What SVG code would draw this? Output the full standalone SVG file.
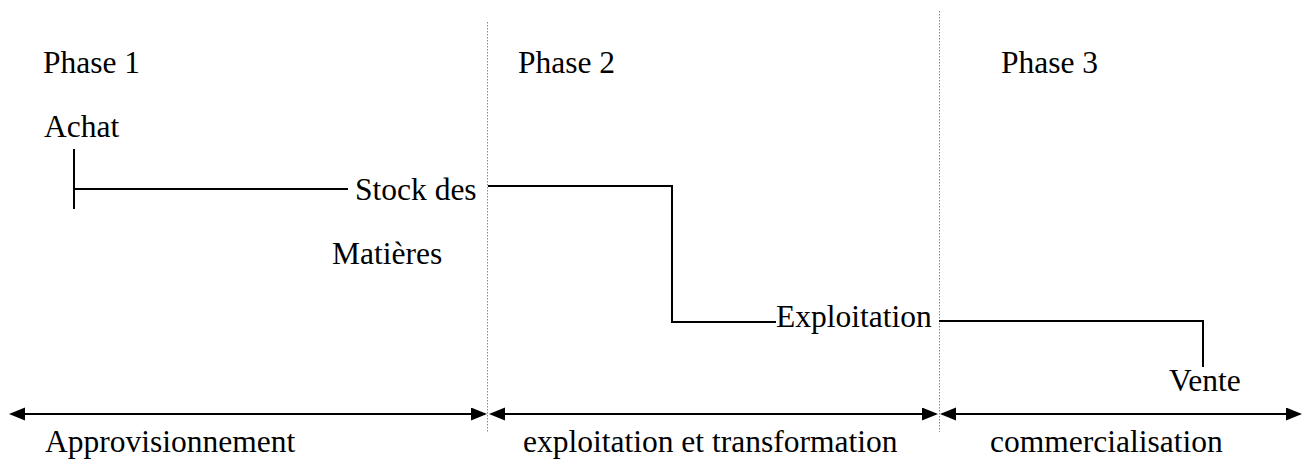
<svg xmlns="http://www.w3.org/2000/svg" width="1308" height="461" viewBox="0 0 1308 461">
<style>
text{font-family:"Liberation Serif","Times New Roman",serif;font-size:31.5px;fill:#000}
.ln{stroke:#000;stroke-width:2;fill:none}
.dot{stroke:#888;stroke-width:1;stroke-dasharray:1.5 1.5;fill:none}
.arr{stroke:#000;stroke-width:2.2;fill:none;marker-start:url(#ah);marker-end:url(#ah)}
</style>
<defs>
<marker id="ah" markerUnits="userSpaceOnUse" markerWidth="18" markerHeight="14" refX="14" refY="6.5" orient="auto-start-reverse" viewBox="0 0 18 14">
<path d="M0,0 L16,6.5 L0,13 z" fill="#000"/>
</marker>
</defs>
<rect width="1308" height="461" fill="#fff"/>
<g id="dividers">
<line class="dot" x1="487.5" y1="22" x2="487.5" y2="432"/>
<line class="dot" x1="939.5" y1="11" x2="939.5" y2="432"/>
</g>
<g id="phase1"><text x="43" y="73">Phase 1</text></g>
<g id="phase2"><text x="518" y="73">Phase 2</text></g>
<g id="phase3"><text x="1001" y="73">Phase 3</text></g>
<g id="achat"><text x="44" y="137">Achat</text></g>
<g id="stock"><text x="355" y="200">Stock des</text><text x="332" y="264">Matières</text></g>
<g id="exploitation"><text x="776" y="327">Exploitation</text></g>
<g id="vente"><text x="1169" y="391">Vente</text></g>
<g id="connectors">
<line class="ln" x1="74" y1="149" x2="74" y2="209"/>
<line class="ln" x1="74" y1="189" x2="348" y2="189"/>
<polyline class="ln" points="488,186 672,186 672,322 776,322"/>
<polyline class="ln" points="939,321 1203,321 1203,367"/>
<line class="arr" x1="11" y1="414" x2="485" y2="414"/>
<line class="arr" x1="491" y1="414" x2="936" y2="414"/>
<line class="arr" x1="942" y1="414" x2="1300" y2="414"/>
</g>
<g id="labels">
<text x="45" y="452">Approvisionnement</text>
<text x="523" y="452">exploitation et transformation</text>
<text x="990" y="452">commercialisation</text>
</g>
</svg>
